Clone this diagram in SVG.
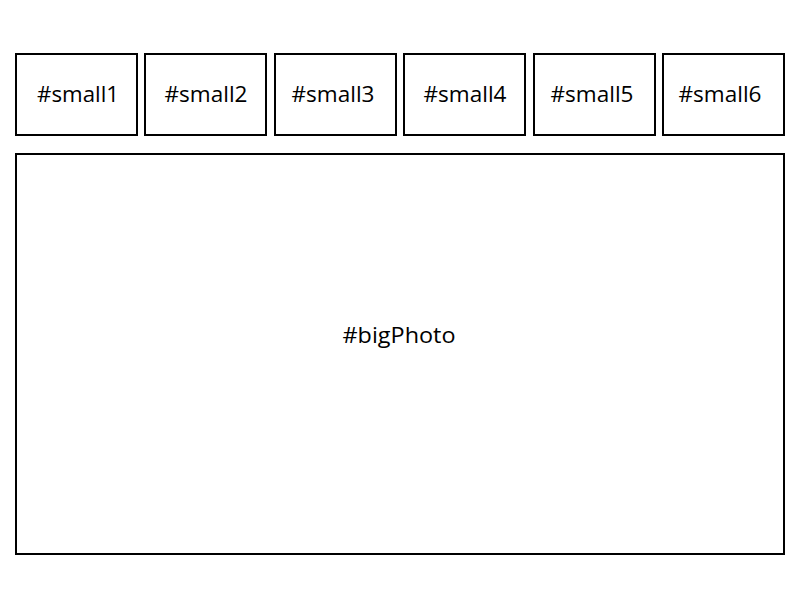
<svg xmlns="http://www.w3.org/2000/svg" width="800" height="600" viewBox="0 0 800 600">
<style>
.box{fill:#fff;stroke:#000;stroke-width:2}
.lbl{font-family:"Open Sans","Noto Sans",sans-serif;font-size:21px;font-weight:500;fill:#000;text-anchor:middle}
</style>
<rect width="800" height="600" fill="#fff"/>
<g id="small1"><rect class="box" x="16" y="54" width="121" height="81"/><text class="lbl" x="78" y="101.5" textLength="82" lengthAdjust="spacingAndGlyphs">#small1</text></g>
<g id="small2"><rect class="box" x="145" y="54" width="121" height="81"/><text class="lbl" x="206" y="101.5" textLength="83" lengthAdjust="spacingAndGlyphs">#small2</text></g>
<g id="small3"><rect class="box" x="275" y="54" width="121" height="81"/><text class="lbl" x="333" y="101.5" textLength="83" lengthAdjust="spacingAndGlyphs">#small3</text></g>
<g id="small4"><rect class="box" x="404" y="54" width="121" height="81"/><text class="lbl" x="465" y="101.5" textLength="83" lengthAdjust="spacingAndGlyphs">#small4</text></g>
<g id="small5"><rect class="box" x="534" y="54" width="121" height="81"/><text class="lbl" x="592" y="101.5" textLength="83" lengthAdjust="spacingAndGlyphs">#small5</text></g>
<g id="small6"><rect class="box" x="663" y="54" width="121" height="81"/><text class="lbl" x="720" y="101.5" textLength="83" lengthAdjust="spacingAndGlyphs">#small6</text></g>
<g id="bigPhoto"><rect class="box" x="16" y="154" width="768" height="400"/><text class="lbl" x="399" y="343" textLength="113" lengthAdjust="spacingAndGlyphs">#bigPhoto</text></g>
<g id="connectors"/>
</svg>
